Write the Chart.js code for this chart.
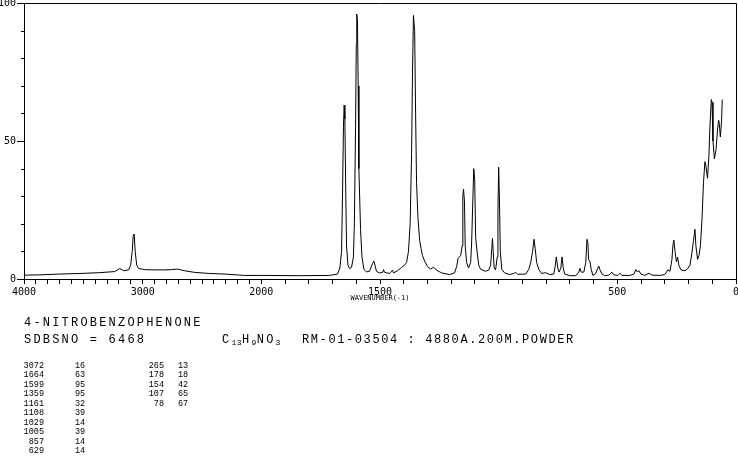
<!DOCTYPE html>
<html>
<head>
<meta charset="utf-8">
<script src="https://cdn.jsdelivr.net/npm/chart.js@4.4.1/dist/chart.umd.min.js"></script>
<style>
  html, body { margin: 0; padding: 0; background: #fff; }
  #wrap { position: relative; width: 738px; height: 457px; overflow: hidden; }
  canvas { position: absolute; left: 0; top: 0; }
  .txt { position: absolute; font-family: "Liberation Mono", "DejaVu Sans Mono", monospace; color: #000; white-space: pre; }
  .big { font-size: 12px; letter-spacing: 2.2px; line-height: 12px; }
  .small { font-size: 8.5px; line-height: 9.45px; }
  sub { font-size: 8px; vertical-align: -2px; letter-spacing: 0.5px; }
</style>
</head>
<body>
<div id="wrap">
  <canvas id="spectrum" width="738" height="457"></canvas>
  <div class="txt big" style="left:24px; top:317px;">4-NITROBENZOPHENONE</div>
  <div class="txt big" style="left:24px; top:334px;">SDBSNO = 6468</div>
  <div class="txt big" style="left:222px; top:334px;">C<sub>13</sub>H<sub>9</sub>NO<sub>3</sub></div>
  <div class="txt big" style="left:302px; top:334px; letter-spacing:1.6px;">RM-01-03504 : 4880A.200M.POWDER</div>
  <div class="txt small" id="peakW1" style="left:14px; top:362px; width:30px; text-align:right;"></div>
  <div class="txt small" id="peakI1" style="left:75px; top:362px;"></div>
  <div class="txt small" id="peakW2" style="left:134px; top:362px; width:30px; text-align:right;"></div>
  <div class="txt small" id="peakI2" style="left:178px; top:362px;"></div>
</div>
<script>
// Raman spectrum of 4-nitrobenzophenone
const wavenumbers = [
  4000, 3866, 3697, 3529, 3361, 3235, 3193, 3160, 3118, 3101, 3088, 3080, 3072, 3063, 3050, 3034,
  2983, 2899, 2815, 2756, 2706, 2647, 2563, 2437, 2311, 2143, 2000,
  1840, 1713, 1679, 1669, 1662, 1658, 1654, 1651, 1648, 1644, 1641, 1635, 1629, 1620, 1612, 1608,
  1603, 1600, 1598, 1595, 1592, 1589, 1582, 1576, 1568, 1557, 1544, 1532, 1526, 1521, 1515, 1502,
  1489, 1485, 1481, 1460, 1447, 1443, 1426, 1409, 1397, 1388, 1380, 1373, 1367, 1363, 1359, 1354,
  1350, 1346, 1340, 1333, 1327, 1321, 1312, 1300, 1287, 1274, 1262, 1240, 1207,
  1186, 1177, 1171, 1160, 1154, 1151, 1148, 1144, 1141, 1135, 1127, 1118, 1114, 1110, 1105, 1101,
  1097, 1091, 1084, 1076, 1055, 1042, 1034, 1029, 1026, 1023, 1019, 1013, 1006, 1003, 1000, 997,
  993, 987, 975, 954, 937, 928, 920, 886, 873, 865, 857, 851, 846, 840, 831, 819, 802, 785, 768,
  762, 757, 751, 745, 738, 733, 728, 722, 700, 675, 662, 658, 652, 641, 633, 628, 624, 621, 616,
  610, 603, 591, 582, 578, 574, 565, 553, 536, 523, 515, 498, 489, 481, 447, 430, 422, 416, 409,
  401, 384, 367, 354, 321, 300, 287, 278, 270, 266, 262, 257, 251, 246, 241, 232, 215, 203, 194,
  186, 179, 173, 169, 162, 156, 150, 143, 137, 131, 127, 120, 114, 110, 104, 101, 97, 91, 84, 78,
  73, 70, 66, 61, 58
];
const intensity = [
  1.4, 1.5, 1.8, 2.0, 2.3, 2.7, 3.8, 3.0, 3.3, 5, 10, 15.5, 16.3, 10, 5, 3.8,
  3.4, 3.3, 3.3, 3.4, 3.6, 3.0, 2.4, 2.0, 1.8, 1.3, 1.3,
  1.2, 1.3, 1.8, 4, 10, 30, 55, 63, 58, 30, 12, 5, 3.8, 4.2, 8, 20,
  55, 85, 96, 94, 70, 40, 18, 8, 3.5, 2.6, 2.8, 5.5, 6.5, 5, 2.8, 2.2,
  2.4, 3.4, 2.4, 2.0, 3.2, 2.2, 3.0, 4.2, 5, 6, 10, 20, 45, 75, 95.5, 90,
  60, 35, 22, 14, 11, 8.5, 6.5, 4.5, 3.6, 4.3, 3.2, 2.2, 1.6,
  2.2, 4.5, 7.5, 8.5, 12, 30, 32.5, 28, 12, 6, 4, 6, 13, 25, 40, 36,
  15, 10, 5, 3.5, 2.8, 3.2, 5, 11, 14.7, 10, 4, 3.3, 8, 25, 40.5, 30,
  10, 3.5, 2.2, 1.6, 2.0, 2.4, 1.7, 1.8, 3.5, 6, 10, 14.4, 11, 6, 3.5, 2.0, 2.3, 1.6, 1.8,
  4.5, 8, 4, 2.5, 4, 8, 4, 1.8, 1.2, 1.2, 2.5, 3.9, 2.5, 2.5, 6, 14.4, 13, 7, 6.5,
  3.5, 1.3, 2.0, 4, 4.7, 3.5, 1.8, 1.2, 1.4, 2.5, 1.5, 1.3, 2.1, 1.3, 1.3, 1.8, 3.4, 2.6, 3.0,
  1.8, 1.3, 2.1, 1.4, 1.3, 1.6, 3.3, 2.8, 7, 12, 14.1, 10, 6.3, 7.9, 5, 3.3, 3.0, 3.8, 5,
  9.3, 14, 18, 12, 7.1, 8.5, 12, 22, 35, 42.5, 41, 36.5, 45, 55, 65, 64, 50, 43.5, 47, 54,
  57.5, 56, 51.5, 57, 65
];

// axis ticks every 100 cm-1, labels only where the original has them
const tickWavenumbers = [];
for (let w = 4000; w >= 0; w -= 100) tickWavenumbers.push(w);
const labelledWavenumbers = [4000, 3000, 2000, 1500, 500, 0];
const yLabels = [0, 50, 100];
const yMinorTicks = [10, 20, 30, 40, 60, 70, 80, 90];

// peak table
const peakWave1 = [3072, 1664, 1599, 1359, 1161, 1108, 1029, 1005, 857, 629];
const peakInt1 = [16, 63, 95, 95, 32, 39, 14, 39, 14, 14];
const peakWave2 = [265, 178, 154, 107, 78];
const peakInt2 = [13, 18, 42, 65, 67];

document.getElementById('peakW1').textContent = peakWave1.join('\n');
document.getElementById('peakI1').textContent = peakInt1.join('\n');
document.getElementById('peakW2').textContent = peakWave2.join('\n');
document.getElementById('peakI2').textContent = peakInt2.join('\n');

// the x axis is compressed by 2 above 2000 cm-1
function toAxis(w) {
    return w >= 2000 ? (4000 - w) / 2 : 3000 - w;
}

const points = wavenumbers.map((w, i) => ({ x: toAxis(w), y: intensity[i] }));

const framePlugin = {
    id: 'frame',
    afterDraw(chart) {
        const { ctx, chartArea } = chart;
        const yScale = chart.scales.y;
        ctx.save();
        ctx.strokeStyle = '#000';
        ctx.lineWidth = 1;
        ctx.beginPath();
        ctx.moveTo(chartArea.left, chartArea.top + 0.5);
        ctx.lineTo(chartArea.right + 0.5, chartArea.top + 0.5);
        ctx.lineTo(chartArea.right + 0.5, chartArea.bottom);
        yMinorTicks.forEach(v => {
            const py = Math.round(yScale.getPixelForValue(v)) + 0.5;
            ctx.moveTo(chartArea.left - 3, py);
            ctx.lineTo(chartArea.left, py);
        });
        ctx.stroke();
        ctx.restore();
    }
};

const tickFont = { family: 'DejaVu Sans Mono', size: 10 };

new Chart(document.getElementById('spectrum'), {
    type: 'scatter',
    data: {
        datasets: [{
            data: points,
            showLine: true,
            borderColor: '#000',
            borderWidth: 1,
            pointRadius: 0,
            tension: 0,
        }],
    },
    options: {
        responsive: false,
        animation: false,
        devicePixelRatio: 1,
        layout: { padding: { left: 0, right: 2, top: 3, bottom: 154 } },
        plugins: {
            legend: { display: false },
            tooltip: { enabled: false },
        },
        scales: {
            x: {
                type: 'linear',
                min: 0,
                max: 3000,
                afterBuildTicks(scale) {
                    scale.ticks = tickWavenumbers.map(w => ({ value: toAxis(w) }));
                },
                afterFit(scale) {
                    scale.height = 24;
                    scale.paddingLeft = 0;
                    scale.paddingRight = 0;
                },
                ticks: {
                    autoSkip: false,
                    maxRotation: 0,
                    padding: 2,
                    color: '#000',
                    font: tickFont,
                    callback: (value, index) => {
                        const w = tickWavenumbers[index];
                        return labelledWavenumbers.includes(w) ? String(w) : '';
                    },
                },
                grid: { drawOnChartArea: false, tickLength: 5, color: '#000', lineWidth: 1 },
                border: { color: '#000', width: 1 },
                title: {
                    display: true,
                    text: 'WAVENUMBER(-1)',
                    color: '#000',
                    font: { family: 'DejaVu Sans Mono', size: 7 },
                    padding: { top: 0, bottom: 1 },
                },
            },
            y: {
                min: 0,
                max: 100,
                afterBuildTicks(scale) {
                    scale.ticks = yLabels.map(v => ({ value: v }));
                },
                afterFit(scale) {
                    scale.width = 24;
                    scale.paddingTop = 0;
                    scale.paddingBottom = 0;
                },
                ticks: { padding: 1, color: '#000', font: tickFont },
                grid: { drawOnChartArea: false, tickLength: 7, color: '#000', lineWidth: 1 },
                border: { color: '#000', width: 1 },
            },
        },
    },
    plugins: [framePlugin],
});
</script>
</body>
</html>
